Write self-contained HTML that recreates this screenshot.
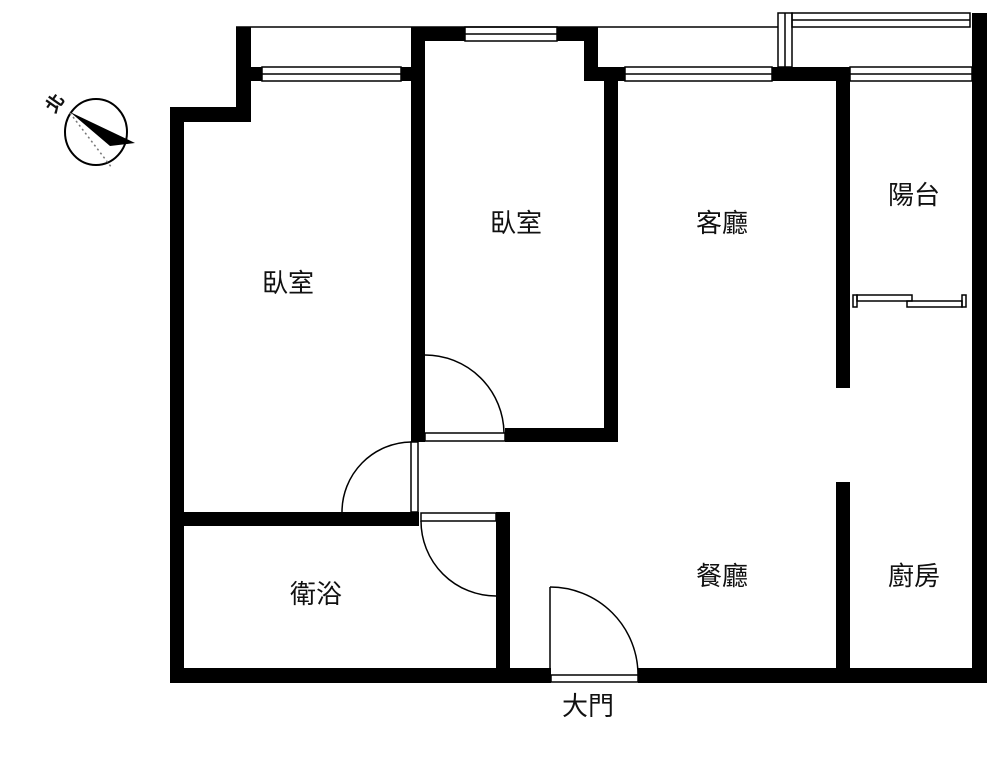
<!DOCTYPE html>
<html><head><meta charset="utf-8"><style>
body{margin:0;background:#fff;}
svg{display:block}
text{font-family:"Liberation Sans","Noto Sans CJK TC",sans-serif;font-size:26px;fill:#111;text-anchor:middle;dominant-baseline:middle}
</style></head><body>
<svg width="1000" height="778" viewBox="0 0 1000 778">
<g fill="#000">
<!-- left wall and step -->
<rect x="170" y="107" width="14" height="575"/>
<rect x="170" y="107" width="81" height="15"/>
<rect x="236" y="27" width="15" height="95"/>
<rect x="236" y="67" width="26" height="14"/>
<rect x="401" y="67" width="24" height="14"/>
<!-- wall between bedrooms -->
<rect x="411" y="27" width="14" height="415"/>
<rect x="411" y="27" width="54" height="14"/>
<rect x="557" y="27" width="41" height="14"/>
<rect x="584" y="27" width="14" height="54"/>
<rect x="584" y="67" width="41" height="14"/>
<rect x="604" y="67" width="14" height="375"/>
<rect x="505" y="428" width="113" height="14"/>
<!-- top right -->
<rect x="772" y="67" width="78" height="14"/>
<rect x="836" y="67" width="14" height="321"/>
<rect x="836" y="482" width="14" height="200"/>
<rect x="972" y="13" width="15" height="669"/>
<!-- bathroom -->
<rect x="170" y="512" width="249" height="14"/>
<rect x="496" y="512" width="14" height="170"/>
<!-- bottom -->
<rect x="170" y="668" width="381" height="15"/>
<rect x="638" y="668" width="349" height="15"/>
</g>
<g fill="none" stroke="#000" stroke-width="1.5">
<line x1="236" y1="27" x2="778" y2="27"/>
<!-- windows -->
<rect x="262" y="67" width="139" height="14"/><line x1="262" y1="74" x2="401" y2="74"/>
<rect x="465" y="27" width="92" height="14"/><line x1="465" y1="34" x2="557" y2="34"/>
<rect x="625" y="67" width="147" height="14"/><line x1="625" y1="74" x2="772" y2="74"/>
<rect x="850" y="67" width="122" height="14"/><line x1="850" y1="74" x2="972" y2="74"/>
<rect x="778" y="13" width="14" height="54"/><line x1="785" y1="13" x2="785" y2="67"/>
<rect x="792" y="13" width="178" height="14"/><line x1="792" y1="20" x2="970" y2="20"/>
<!-- balcony sliding door -->
<rect x="853" y="295" width="4" height="12"/>
<rect x="857" y="295" width="55" height="6"/>
<rect x="907" y="301" width="55" height="6"/>
<rect x="962" y="295" width="4" height="12"/>
<!-- doors -->
<rect x="425" y="433" width="80" height="8"/>
<path d="M425 355 A79 79 0 0 1 504 433"/>
<rect x="411" y="442" width="7" height="70"/>
<path d="M342 512 A70 70 0 0 1 411 442"/>
<rect x="421" y="513" width="75" height="8"/>
<path d="M421 521 A75 75 0 0 0 496 596"/>
<rect x="551" y="675" width="87" height="7"/>
<line x1="550" y1="587" x2="550" y2="675"/>
<path d="M550 587 A88 88 0 0 1 638 675"/>
<!-- compass -->
<ellipse cx="96" cy="132" rx="31" ry="33" stroke-width="2"/>
<line x1="70" y1="113" x2="112" y2="168" stroke-dasharray="2,3" stroke="#777"/>
</g>
<polygon points="70,112 135,143 110,146" fill="#000"/>
<text x="56" y="104" transform="rotate(-55 56 104)" style="font-size:18px;font-weight:bold">北</text>
<text x="288" y="285">臥室</text>
<text x="516" y="225">臥室</text>
<text x="722" y="225">客廳</text>
<text x="914" y="197">陽台</text>
<text x="316" y="596">衛浴</text>
<text x="722" y="578">餐廳</text>
<text x="914" y="578">廚房</text>
<text x="588" y="708">大門</text>
</svg>
</body></html>
